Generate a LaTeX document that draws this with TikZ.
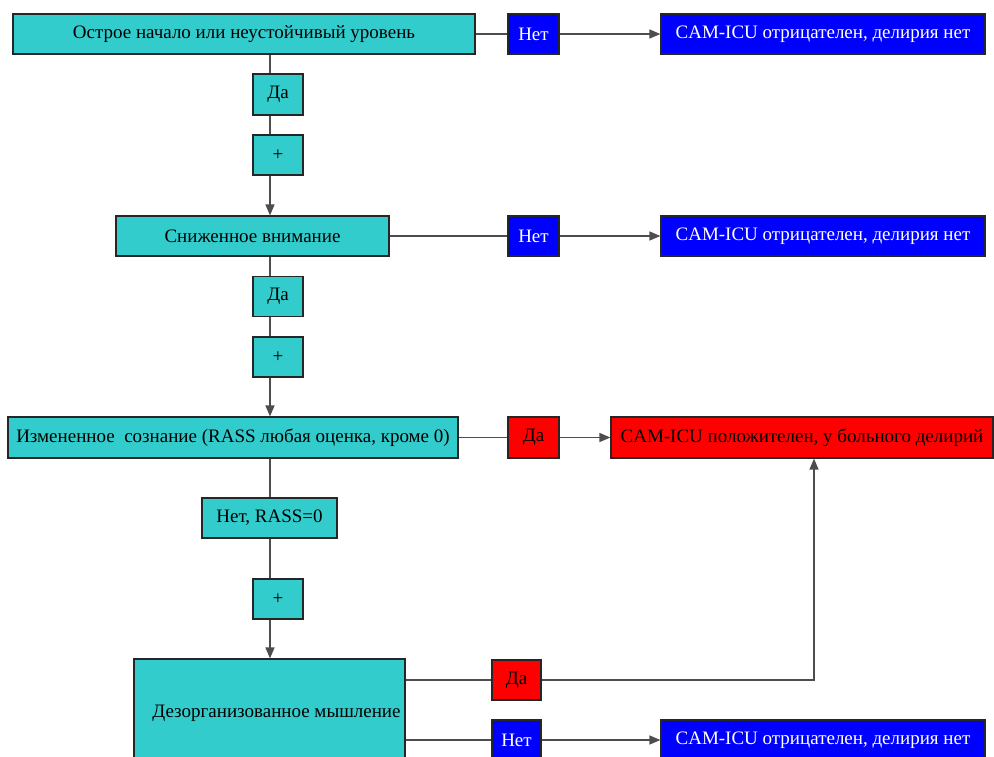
\documentclass[tikz,border=0pt]{standalone}
\usepackage{fontspec}
\setmainfont{Liberation Serif}
\usetikzlibrary{arrows.meta, positioning}
\definecolor{boxcyan}{HTML}{33CCCC}
\definecolor{boxblue}{HTML}{0000FF}
\definecolor{boxred}{HTML}{FF0000}
\definecolor{linegray}{HTML}{4D4D4D}

\begin{document}
\begin{tikzpicture}[x=1pt, y=-1pt, >={Triangle[length=11pt, width=9pt]},
  font=\fontsize{19}{21}\selectfont,
  box/.style={draw=black!85, line width=1.2pt, minimum height=40pt, inner sep=0pt},
  cyanbox/.style={box, fill=boxcyan},
  bluebox/.style={box, fill=boxblue, text=white},
  redbox/.style={box, fill=boxred},
  link/.style={draw=linegray, line width=1.4pt}]
  \clip (0,0) rectangle (994,756);
  \fill[white] (0,0) rectangle (994,756);
  \coordinate (trunk) at (270,0);
  \coordinate (turn) at (814,0);

  % Шаг 1: острое начало
  \node[cyanbox, minimum width=462pt] (main1) at (244,34) {Острое начало или неустойчивый уровень};
  \node[bluebox, minimum width=51pt] (net1) at (533.5,34) {Нет};
  \node[bluebox, minimum width=324pt] (neg1) at (823,34) {CAM-ICU отрицателен, делирия нет};
  \node[cyanbox, minimum width=50pt, minimum height=41pt] (da1) at (278,94.5) {Да};
  \node[cyanbox, minimum width=50pt] (plus1) at (278,155) {+};

  % Шаг 2: внимание
  \node[cyanbox, minimum width=273pt] (main2) at (252.5,236) {Сниженное внимание};
  \node[bluebox, minimum width=51pt] (net2) at (533.5,236) {Нет};
  \node[bluebox, minimum width=324pt] (neg2) at (823,236) {CAM-ICU отрицателен, делирия нет};
  \node[cyanbox, minimum width=50pt] (da2) at (278,296.5) {Да};
  \node[cyanbox, minimum width=50pt] (plus2) at (278,357) {+};

  % Шаг 3: сознание
  \node[cyanbox, minimum width=450pt, minimum height=41pt] (main3) at (233,437.5)
    {Измененное~ сознание (RASS любая оценка, кроме 0)};
  \node[redbox, minimum width=51pt, minimum height=41pt] (da3) at (533.5,437.5) {Да};
  \node[redbox, minimum width=382pt, minimum height=41pt] (pos) at (802,437.5)
    {CAM-ICU положителен, у больного делирий};
  \node[cyanbox, minimum width=135pt] (norass) at (269.5,518) {Нет, RASS=0};
  \node[cyanbox, minimum width=50pt] (plus3) at (278,599) {+};

  % Шаг 4: мышление
  \node[cyanbox, minimum width=271pt, minimum height=108pt] (main4) at (269.5,713)
    {\hspace{14pt}Дезорганизованное мышление};
  \node[redbox, minimum width=49pt] (da4) at (516.5,680) {Да};
  \node[bluebox, minimum width=49pt] (net4) at (516.5,740) {Нет};
  \node[bluebox, minimum width=324pt] (neg4) at (823,740) {CAM-ICU отрицателен, делирия нет};

  % Вертикальный ствол
  \draw[link] (main1.south -| trunk) -- (da1.north -| trunk);
  \draw[link] (da1.south -| trunk) -- (plus1.north -| trunk);
  \draw[link, ->] (plus1.south -| trunk) -- (main2.north -| trunk);
  \draw[link] (main2.south -| trunk) -- (da2.north -| trunk);
  \draw[link] (da2.south -| trunk) -- (plus2.north -| trunk);
  \draw[link, ->] (plus2.south -| trunk) -- (main3.north -| trunk);
  \draw[link] (main3.south -| trunk) -- (norass.north -| trunk);
  \draw[link] (norass.south -| trunk) -- (plus3.north -| trunk);
  \draw[link, ->] (plus3.south -| trunk) -- (main4.north -| trunk);

  % Ветви вправо
  \draw[link] (main1) -- (net1);
  \draw[link, ->] (net1) -- (neg1);
  \draw[link] (main2) -- (net2);
  \draw[link, ->] (net2) -- (neg2);
  \draw[link] (main3) -- (da3);
  \draw[link, ->] (da3) -- (pos);
  \draw[link] (main4.east |- da4.west) -- (da4.west);
  \draw[link, ->] (da4.east) -| (pos.south -| turn);
  \draw[link] (main4.east |- net4.west) -- (net4.west);
  \draw[link, ->] (net4) -- (neg4);
\end{tikzpicture}
\end{document}
